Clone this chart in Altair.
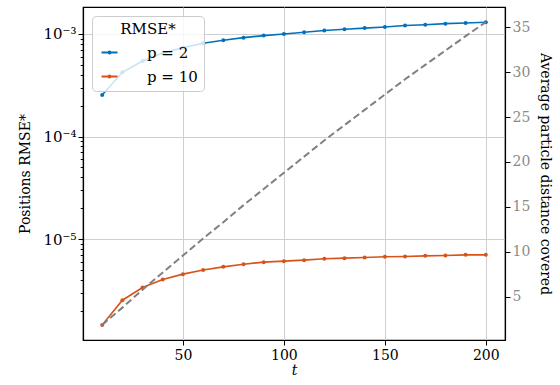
import altair as alt
import pandas as pd

t = [10, 20, 30, 40, 50, 60, 70, 80, 90, 100, 110, 120, 130, 140, 150, 160, 170, 180, 190, 200]
rmse_p2 = [2.54e-4, 4.23e-4, 5.45e-4, 6.5e-4, 7.35e-4, 8.1e-4, 8.67e-4, 9.2e-4, 9.63e-4, 1.0e-3,
           1.04e-3, 1.08e-3, 1.11e-3, 1.14e-3, 1.17e-3, 1.21e-3, 1.23e-3, 1.26e-3, 1.28e-3, 1.30e-3]
rmse_p10 = [1.46e-6, 2.54e-6, 3.38e-6, 4.04e-6, 4.56e-6, 5.01e-6, 5.37e-6, 5.7e-6, 5.97e-6, 6.1e-6,
            6.24e-6, 6.43e-6, 6.53e-6, 6.63e-6, 6.73e-6, 6.78e-6, 6.87e-6, 6.92e-6, 7.03e-6, 7.03e-6]
avg_dist = [1.88, 3.8, 5.8, 7.7, 9.6, 11.5, 13.3, 15.2, 17.0, 18.8,
            20.6, 22.4, 24.1, 25.8, 27.5, 29.2, 30.8, 32.4, 34.0, 35.56]
series = ["p = 2", "p = 10"]
colors = ["#0072BD", "#D95319"]
x_ticks = [50, 100, 150, 200]
right_ticks = [5, 10, 15, 20, 25, 30, 35]
left_ticks = [m * 10.0 ** e for e in (-6, -5, -4, -3) for m in range(1, 10)]
left_ticks = [v for v in left_ticks if 1.04e-6 <= v <= 1.83e-3]

rmse_df = pd.DataFrame({
    "t": t * 2,
    "rmse": rmse_p2 + rmse_p10,
    "series": [series[0]] * len(t) + [series[1]] * len(t),
})
dist_df = pd.DataFrame({"t": t, "dist": avg_dist})

FONT = "DejaVu Serif"
is_major = "abs(log(datum.value)/LN10 - round(log(datum.value)/LN10)) < 0.001"
label_expr = (is_major + " ? '10⁻' + ['⁰','¹','²','³','⁴','⁵','⁶','⁷','⁸','⁹'][-round(log(datum.value)/LN10)] : ''")

x_enc = alt.X("t:Q", scale=alt.Scale(domain=[0.5, 209.5], nice=False, zero=False),
              axis=alt.Axis(values=x_ticks, title="t", titleFontStyle="italic", grid=True,
                            gridColor="#cfcfcf", tickSize=5, labelPadding=3, titlePadding=1))

y_left = alt.Y("rmse:Q",
               scale=alt.Scale(type="log", domain=[1.04e-6, 1.83e-3], nice=False),
               axis=alt.Axis(values=left_ticks, labelExpr=label_expr, title="Positions RMSE*",
                             tickSize={"condition": {"test": is_major, "value": 5}, "value": 2.8},
                             gridOpacity={"condition": {"test": is_major, "value": 1}, "value": 0},
                             gridColor="#cfcfcf", labelFlush=False, labelFontSize=15, titlePadding=10))

legend_symbol = "M-1,0L3,0M0.72,0a0.28,0.28 0 1,0 0.56,0a0.28,0.28 0 1,0 -0.56,0"
color_enc = alt.Color("series:N", scale=alt.Scale(domain=series, range=colors),
                      legend=alt.Legend(title="RMSE*", orient="top-left", offset=9,
                                        symbolType=legend_symbol,
                                        symbolSize=64, symbolStrokeWidth=1.8,
                                        fillColor="rgba(255,255,255,0.8)", strokeColor="#cccccc",
                                        cornerRadius=4, padding=6, titleAnchor="middle",
                                        titleFontSize=15, labelFontSize=15, titleFontWeight="normal",
                                        titlePadding=8, rowPadding=8, labelOffset=34))

lines = alt.Chart(rmse_df).mark_line(strokeWidth=1.6).encode(x=x_enc, y=y_left, color=color_enc)
points = alt.Chart(rmse_df).mark_point(filled=True, size=16, opacity=1).encode(
    x=x_enc, y=y_left, color=alt.Color("series:N", scale=alt.Scale(domain=series, range=colors), legend=None))
left = alt.layer(lines, points)

right = alt.Chart(dist_df).mark_line(strokeDash=[7, 3.5], strokeWidth=2, color="#808080").encode(
    x=x_enc,
    y=alt.Y("dist:Q", scale=alt.Scale(domain=[0.2, 37.24], nice=False, zero=False),
            axis=alt.Axis(orient="right", values=right_ticks, grid=False, labelColor="#8a8a8a",
                          title="Average particle distance covered", tickSize=5, titlePadding=8)))

chart = alt.layer(left, right).resolve_scale(y="independent").properties(
    width=422, height=333, autosize=alt.AutoSizeParams(type="none"),
    padding={"left": 83, "top": 7, "right": 55, "bottom": 45},
).configure_view(stroke="black", strokeWidth=1.2).configure_axis(
    labelFont=FONT, titleFont=FONT, labelFontSize=14, titleFontSize=14, titleFontWeight="normal",
    labelColor="black", titleColor="black", domainColor="black", tickColor="black", domainWidth=1.2,
).configure_legend(labelFont=FONT, titleFont=FONT, labelColor="black", titleColor="black")

chart.save("out.html", embed_options={"renderer": "svg", "actions": False})
